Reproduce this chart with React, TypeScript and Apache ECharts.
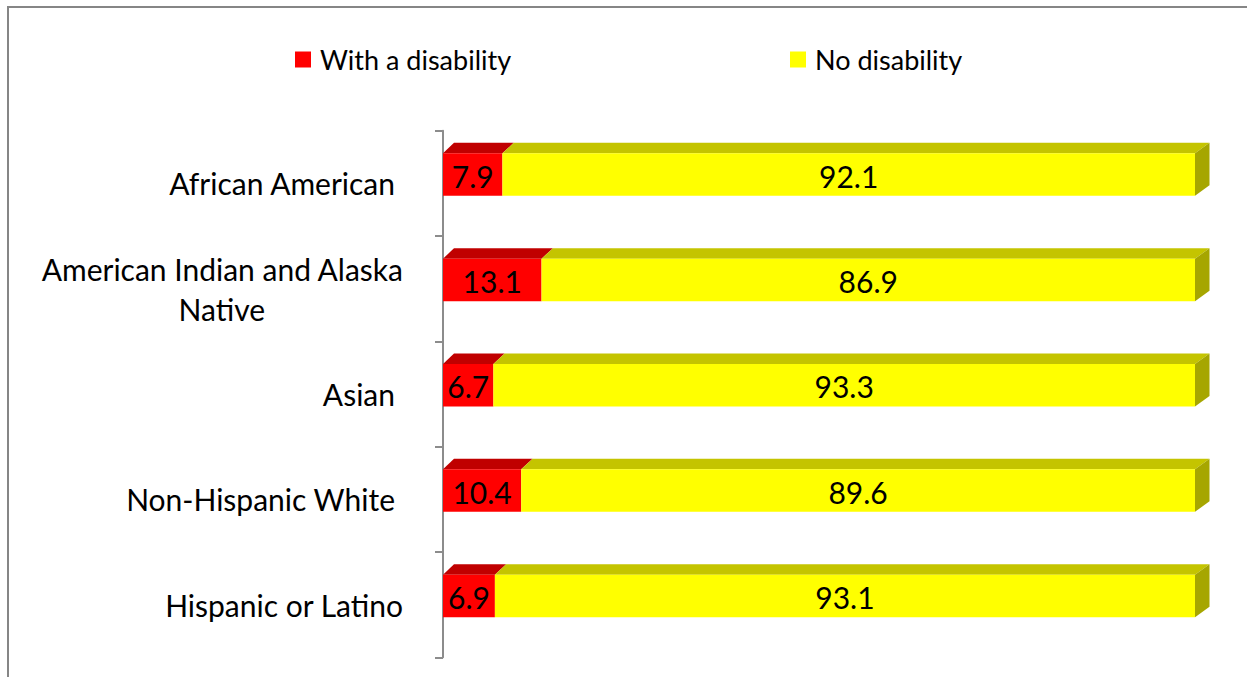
import React, { useEffect, useRef } from "react";
import * as echarts from "echarts";

const categories = [
  "African American",
  "American Indian and Alaska Native",
  "Asian",
  "Non-Hispanic White",
  "Hispanic or Latino",
];
const withDisability = [7.9, 13.1, 6.7, 10.4, 6.9];
const noDisability = [92.1, 86.9, 93.3, 89.6, 93.1];
const seriesNames = ["With a disability", "No disability"];
const trailingSpace = ["African American", "Asian", "Non-Hispanic White"];

const FONT = "Lato";
const FS_CAT = 30;
const FS_VAL = 30;
const FS_LEG = 27;

const palettes = [
  { front: "#FF0000", top: "#C00000", side: "#A00000" },
  { front: "#FFFF00", top: "#C4C400", side: "#A6A600" },
];

export default function App() {
  const ref = useRef<HTMLDivElement>(null);
  useEffect(() => {
    document.body.style.margin = "0";
    const chart = echarts.init(ref.current!, null, { renderer: "svg" });

    const canvas = document.createElement("canvas");
    const ctx = canvas.getContext("2d")!;
    ctx.font = `${FS_CAT}px ${FONT}`;
    const line1W = ctx.measureText("American Indian and Alaska").width;

    // axis line at x=432, bars start at x=443 (value 0), end at 1195 (value 100)
    const axisX = 432;
    const zeroX = 443;
    const fullX = 1195;
    const xMin = -((zeroX - axisX) / (fullX - zeroX)) * 100;
    const gridTop = 130.7;
    const gridHeight = 526.6;

    const makeData = (idx: number) =>
      categories.map((_, i) => {
        const start = idx === 0 ? 0 : withDisability[i];
        const val = idx === 0 ? withDisability[i] : noDisability[i];
        return [i, start, start + val, val];
      });

    const makeRender = (idx: number) => (params: any, api: any) => {
      const cat = api.value(0);
      const start = api.value(1);
      const end = api.value(2);
      const val = api.value(3);
      const p0 = api.coord([start, cat]);
      const p1 = api.coord([end, cat]);
      const z0 = api.coord([0, cat])[0];
      const z1 = api.coord([100, cat])[0];
      const c = p0[1];
      const top = c - 30;
      const h = 42.5;
      const dy = 10.5;
      const dxAt = (x: number) => 11 + 3.5 * ((x - z0) / (z1 - z0));
      const x0 = p0[0];
      const x1 = p1[0];
      const pal = palettes[idx];
      const children: any[] = [
        {
          type: "polygon",
          shape: {
            points: [
              [x0, top],
              [x1, top],
              [x1 + dxAt(x1), top - dy],
              [x0 + dxAt(x0), top - dy],
            ],
          },
          style: { fill: pal.top },
        },
        {
          type: "rect",
          shape: { x: x0, y: top, width: x1 - x0, height: h },
          style: { fill: pal.front },
        },
      ];
      if (idx === 1) {
        const d = dxAt(x1);
        children.push({
          type: "polygon",
          shape: {
            points: [
              [x1, top],
              [x1 + d, top - dy],
              [x1 + d, top + h - dy],
              [x1, top + h],
            ],
          },
          style: { fill: pal.side },
        });
      }
      children.push({
        type: "text",
        style: {
          text: val.toFixed(1),
          x: (x0 + x1) / 2,
          y: top + h / 2 + 1,
          align: "center",
          verticalAlign: "middle",
          fontSize: FS_VAL,
          fontFamily: FONT,
          fill: "#000000",
        },
      });
      return { type: "group", children };
    };

    const legendBase = {
      top: 41,
      icon: "rect",
      itemWidth: 16,
      itemHeight: 16,
      textStyle: { fontSize: FS_LEG, fontFamily: FONT, color: "#000", padding: [0, 0, 0, 4] },
      selectedMode: false,
    };

    const option: any = {
      animation: false,
      textStyle: { fontFamily: FONT },
      graphic: [
        {
          type: "rect",
          shape: { x: 8, y: 7, width: 1300, height: 720 },
          style: { fill: "none", stroke: "#868686", lineWidth: 2 },
          silent: true,
          z: -10,
        },
      ],
      legend: [
        { ...legendBase, data: [seriesNames[0]], left: 290 },
        { ...legendBase, data: [seriesNames[1]], left: 785 },
      ],
      grid: { left: axisX, top: gridTop, width: fullX - axisX, height: gridHeight },
      xAxis: { type: "value", min: xMin, max: 100, show: false },
      yAxis: {
        type: "category",
        data: categories,
        inverse: true,
        axisLine: { show: true, lineStyle: { color: "#8C8C8C", width: 2 } },
        axisTick: { show: true, length: 8, lineStyle: { color: "#8C8C8C", width: 2 } },
        splitLine: { show: false },
        axisLabel: {
          margin: 29,
          fontSize: FS_CAT,
          fontFamily: FONT,
          color: "#000",
          lineHeight: 40,
          formatter: (v: string) => {
            if (v === "American Indian and Alaska Native") {
              return "{a|American Indian and Alaska}\n{n|Native}";
            }
            if (trailingSpace.includes(v)) return `{t|${v}}`;
            return `{a|${v}}`;
          },
          rich: {
            a: { fontSize: FS_CAT, fontFamily: FONT, color: "#000", lineHeight: 40 },
            t: { fontSize: FS_CAT, fontFamily: FONT, color: "#000", lineHeight: 40, padding: [0, 8, 0, 0] },
            n: { fontSize: FS_CAT, fontFamily: FONT, color: "#000", lineHeight: 40, width: line1W, align: "center" },
          },
        },
      },
      series: [0, 1].map((idx) => ({
        type: "custom",
        name: seriesNames[idx],
        itemStyle: { color: palettes[idx].front },
        renderItem: makeRender(idx),
        encode: { x: [1, 2], y: 0 },
        data: makeData(idx),
        z: idx + 2,
      })),
    };
    chart.setOption(option);
    return () => chart.dispose();
  }, []);
  return <div ref={ref} style={{ width: 1247, height: 677 }} />;
}
